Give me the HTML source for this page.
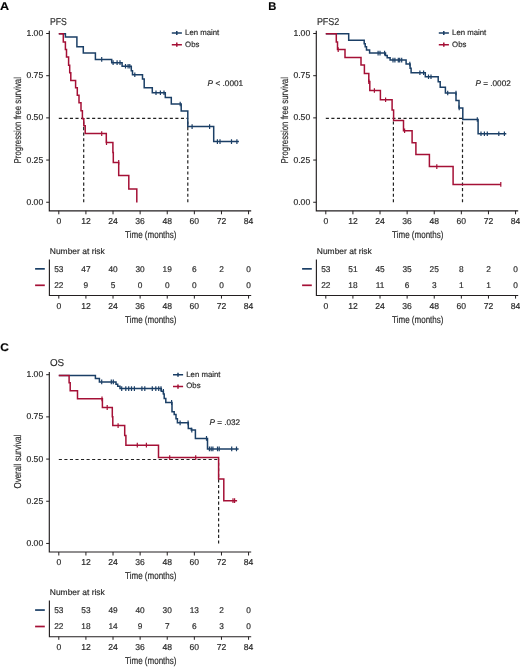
<!DOCTYPE html>
<html><head><meta charset="utf-8"><title>Kaplan-Meier</title>
<style>
html,body{margin:0;padding:0;background:#fff;}
body{width:520px;height:667px;overflow:hidden;}
svg{display:block;will-change:transform;text-rendering:geometricPrecision;font-family:"Liberation Sans",sans-serif;}
text{stroke:#2a2a2a;stroke-width:0.18px;}
</style></head>
<body>
<svg width="520" height="667" viewBox="0 0 520 667">
<rect width="520" height="667" fill="#fff"/>
<g transform="translate(0,0)">
<text x="0.0" y="9.8" font-size="11.2" font-weight="bold" fill="#000" textLength="9.1" lengthAdjust="spacingAndGlyphs">A</text>
<text x="49.9" y="24.6" font-size="10" fill="#2a2a2a" textLength="16.8" lengthAdjust="spacingAndGlyphs">PFS</text>
<path d="M49.3 30.8 V210.8 H251.2" fill="none" stroke="#231f20" stroke-width="1.15"/>
<path d="M46.2 33.50 H49.3" stroke="#231f20" stroke-width="1"/>
<text x="43.2" y="36.10" font-size="8.6" fill="#2a2a2a" text-anchor="end">1.00</text>
<path d="M46.2 75.69 H49.3" stroke="#231f20" stroke-width="1"/>
<text x="43.2" y="78.29" font-size="8.6" fill="#2a2a2a" text-anchor="end">0.75</text>
<path d="M46.2 117.88 H49.3" stroke="#231f20" stroke-width="1"/>
<text x="43.2" y="120.47" font-size="8.6" fill="#2a2a2a" text-anchor="end">0.50</text>
<path d="M46.2 160.06 H49.3" stroke="#231f20" stroke-width="1"/>
<text x="43.2" y="162.66" font-size="8.6" fill="#2a2a2a" text-anchor="end">0.25</text>
<path d="M46.2 202.25 H49.3" stroke="#231f20" stroke-width="1"/>
<text x="43.2" y="204.85" font-size="8.6" fill="#2a2a2a" text-anchor="end">0.00</text>
<path d="M58.80 210.8 V214.3" stroke="#231f20" stroke-width="1"/>
<text x="58.80" y="224.1" font-size="8.6" fill="#2a2a2a" text-anchor="middle">0</text>
<path d="M85.91 210.8 V214.3" stroke="#231f20" stroke-width="1"/>
<text x="85.91" y="224.1" font-size="8.6" fill="#2a2a2a" text-anchor="middle">12</text>
<path d="M113.02 210.8 V214.3" stroke="#231f20" stroke-width="1"/>
<text x="113.02" y="224.1" font-size="8.6" fill="#2a2a2a" text-anchor="middle">24</text>
<path d="M140.13 210.8 V214.3" stroke="#231f20" stroke-width="1"/>
<text x="140.13" y="224.1" font-size="8.6" fill="#2a2a2a" text-anchor="middle">36</text>
<path d="M167.24 210.8 V214.3" stroke="#231f20" stroke-width="1"/>
<text x="167.24" y="224.1" font-size="8.6" fill="#2a2a2a" text-anchor="middle">48</text>
<path d="M194.35 210.8 V214.3" stroke="#231f20" stroke-width="1"/>
<text x="194.35" y="224.1" font-size="8.6" fill="#2a2a2a" text-anchor="middle">60</text>
<path d="M221.46 210.8 V214.3" stroke="#231f20" stroke-width="1"/>
<text x="221.46" y="224.1" font-size="8.6" fill="#2a2a2a" text-anchor="middle">72</text>
<path d="M248.57 210.8 V214.3" stroke="#231f20" stroke-width="1"/>
<text x="248.57" y="224.1" font-size="8.6" fill="#2a2a2a" text-anchor="middle">84</text>
<text x="125.1" y="238" font-size="10" fill="#2a2a2a" textLength="51.4" lengthAdjust="spacingAndGlyphs">Time (months)</text>
<text transform="translate(20.9 120.25) rotate(-90)" x="0" y="0" font-size="10" fill="#2a2a2a" text-anchor="middle" textLength="86.3" lengthAdjust="spacingAndGlyphs">Progression free survival</text>
<g transform="translate(0.0,0.0)">
<path d="M171.8 32.9 H181.9 M176.8 30.9 V34.9" stroke="#1b3f66" stroke-width="1.5" fill="none"/>
<path d="M171.8 44.7 H181.9 M176.8 42.6 V46.8" stroke="#a51036" stroke-width="1.5" fill="none"/>
<text x="185.1" y="34.9" font-size="7.8" fill="#2a2a2a" textLength="34.2" lengthAdjust="spacingAndGlyphs">Len maint</text>
<text x="185.1" y="46.6" font-size="7.8" fill="#2a2a2a" textLength="14.3" lengthAdjust="spacingAndGlyphs">Obs</text>
</g>
<text x="207.6" y="85.9" font-size="8.2" fill="#2a2a2a" textLength="35.6" lengthAdjust="spacingAndGlyphs"><tspan font-style="italic">P</tspan> < .0001</text>
<text x="49.8" y="253.9" font-size="8.3" fill="#2a2a2a" textLength="55" lengthAdjust="spacingAndGlyphs">Number at risk</text>
<path d="M35.1 268.85 H44.8" stroke="#1b3f66" stroke-width="1.7"/>
<path d="M35.1 285.3 H44.8" stroke="#a51036" stroke-width="1.7"/>
<path d="M49.4 259.4 V295.5 H251.2" fill="none" stroke="#231f20" stroke-width="1.15"/>
<path d="M58.80 295.5 V298.6" stroke="#231f20" stroke-width="1"/>
<text x="58.80" y="309.3" font-size="8.6" fill="#2a2a2a" text-anchor="middle">0</text>
<text x="58.80" y="271.5" font-size="8.3" fill="#2a2a2a" text-anchor="middle">53</text>
<text x="58.80" y="287.7" font-size="8.3" fill="#2a2a2a" text-anchor="middle">22</text>
<path d="M85.91 295.5 V298.6" stroke="#231f20" stroke-width="1"/>
<text x="85.91" y="309.3" font-size="8.6" fill="#2a2a2a" text-anchor="middle">12</text>
<text x="85.91" y="271.5" font-size="8.3" fill="#2a2a2a" text-anchor="middle">47</text>
<text x="85.91" y="287.7" font-size="8.3" fill="#2a2a2a" text-anchor="middle">9</text>
<path d="M113.02 295.5 V298.6" stroke="#231f20" stroke-width="1"/>
<text x="113.02" y="309.3" font-size="8.6" fill="#2a2a2a" text-anchor="middle">24</text>
<text x="113.02" y="271.5" font-size="8.3" fill="#2a2a2a" text-anchor="middle">40</text>
<text x="113.02" y="287.7" font-size="8.3" fill="#2a2a2a" text-anchor="middle">5</text>
<path d="M140.13 295.5 V298.6" stroke="#231f20" stroke-width="1"/>
<text x="140.13" y="309.3" font-size="8.6" fill="#2a2a2a" text-anchor="middle">36</text>
<text x="140.13" y="271.5" font-size="8.3" fill="#2a2a2a" text-anchor="middle">30</text>
<text x="140.13" y="287.7" font-size="8.3" fill="#2a2a2a" text-anchor="middle">0</text>
<path d="M167.24 295.5 V298.6" stroke="#231f20" stroke-width="1"/>
<text x="167.24" y="309.3" font-size="8.6" fill="#2a2a2a" text-anchor="middle">48</text>
<text x="167.24" y="271.5" font-size="8.3" fill="#2a2a2a" text-anchor="middle">19</text>
<text x="167.24" y="287.7" font-size="8.3" fill="#2a2a2a" text-anchor="middle">0</text>
<path d="M194.35 295.5 V298.6" stroke="#231f20" stroke-width="1"/>
<text x="194.35" y="309.3" font-size="8.6" fill="#2a2a2a" text-anchor="middle">60</text>
<text x="194.35" y="271.5" font-size="8.3" fill="#2a2a2a" text-anchor="middle">6</text>
<text x="194.35" y="287.7" font-size="8.3" fill="#2a2a2a" text-anchor="middle">0</text>
<path d="M221.46 295.5 V298.6" stroke="#231f20" stroke-width="1"/>
<text x="221.46" y="309.3" font-size="8.6" fill="#2a2a2a" text-anchor="middle">72</text>
<text x="221.46" y="271.5" font-size="8.3" fill="#2a2a2a" text-anchor="middle">2</text>
<text x="221.46" y="287.7" font-size="8.3" fill="#2a2a2a" text-anchor="middle">0</text>
<path d="M248.57 295.5 V298.6" stroke="#231f20" stroke-width="1"/>
<text x="248.57" y="309.3" font-size="8.6" fill="#2a2a2a" text-anchor="middle">84</text>
<text x="248.57" y="271.5" font-size="8.3" fill="#2a2a2a" text-anchor="middle">0</text>
<text x="248.57" y="287.7" font-size="8.3" fill="#2a2a2a" text-anchor="middle">0</text>
<text x="125.1" y="322.9" font-size="10" fill="#2a2a2a" textLength="51.4" lengthAdjust="spacingAndGlyphs">Time (months)</text>
</g>
<path d="M58.8 118.4 H187.8 M83.7 202.3 V118.4 M187.8 202.3 V118.4" fill="none" stroke="#222" stroke-width="1.2" stroke-dasharray="3.1 2.45"/>
<g transform="translate(0,0.3)">
<path d="M58.8 33.5 H65.4 V36.8 H76.9 V46.4 H83.3 V52.8 H95.4 V59.1 H111.7 V62.4 H122.1 V66.0 H131.3 V70.5 H132.5 V74.5 H142.5 V78.8 H144.2 V87.5 H152.3 V92.5 H165.3 V97.3 H171.3 V103.7 H181.2 V110.6 H187.8 V126.2 H213.7 V141.3 H238.9" fill="none" stroke="#1b3f66" stroke-width="1.5" stroke-linejoin="miter" stroke-linecap="butt"/>
<path d="M101.7 56.8 V61.5 M113.1 60.0 V64.8 M117.1 60.0 V64.8 M120.0 60.0 V64.8 M125.5 63.6 V68.3 M128.1 63.6 V68.3 M129.8 63.6 V68.3 M134.8 72.2 V76.8 M156.0 90.2 V94.8 M160.4 90.2 V94.8 M164.0 90.2 V94.8 M180.2 101.4 V106.0 M192.1 123.9 V128.6 M209.6 123.9 V128.6 M217.4 139.0 V143.7 M220.0 139.0 V143.7 M231.5 139.0 V143.7 M236.9 139.0 V143.7" fill="none" stroke="#1b3f66" stroke-width="1.2"/>
</g>
<g transform="translate(0,0.3)">
<path d="M58.8 33.5 H63.3 V41.6 H65.4 V49.3 H66.5 V56.8 H68.6 V64.9 H69.7 V72.4 H70.8 V80.3 H75.6 V87.5 H77.3 V95.0 H79.0 V102.5 H81.0 V110.5 H82.4 V118.5 H83.8 V125.5 H85.2 V133.3 H106.3 V142.3 H112.9 V152.1 H113.3 V162.2 H118.7 V175.3 H128.8 V188.8 H136.8 V202.3" fill="none" stroke="#a51036" stroke-width="1.5" stroke-linejoin="miter" stroke-linecap="butt"/>
<path d="M101.7 131.0 V135.7 M106.5 140.0 V144.7 M118.7 159.8 V164.5" fill="none" stroke="#a51036" stroke-width="1.2"/>
</g>
<g transform="translate(267,0)">
<text x="1.2" y="9.8" font-size="11.2" font-weight="bold" fill="#000" textLength="8.1" lengthAdjust="spacingAndGlyphs">B</text>
<text x="49.9" y="24.6" font-size="10" fill="#2a2a2a" textLength="22.4" lengthAdjust="spacingAndGlyphs">PFS2</text>
<path d="M49.3 30.8 V210.8 H251.2" fill="none" stroke="#231f20" stroke-width="1.15"/>
<path d="M46.2 33.50 H49.3" stroke="#231f20" stroke-width="1"/>
<text x="43.2" y="36.10" font-size="8.6" fill="#2a2a2a" text-anchor="end">1.00</text>
<path d="M46.2 75.69 H49.3" stroke="#231f20" stroke-width="1"/>
<text x="43.2" y="78.29" font-size="8.6" fill="#2a2a2a" text-anchor="end">0.75</text>
<path d="M46.2 117.88 H49.3" stroke="#231f20" stroke-width="1"/>
<text x="43.2" y="120.47" font-size="8.6" fill="#2a2a2a" text-anchor="end">0.50</text>
<path d="M46.2 160.06 H49.3" stroke="#231f20" stroke-width="1"/>
<text x="43.2" y="162.66" font-size="8.6" fill="#2a2a2a" text-anchor="end">0.25</text>
<path d="M46.2 202.25 H49.3" stroke="#231f20" stroke-width="1"/>
<text x="43.2" y="204.85" font-size="8.6" fill="#2a2a2a" text-anchor="end">0.00</text>
<path d="M58.80 210.8 V214.3" stroke="#231f20" stroke-width="1"/>
<text x="58.80" y="224.1" font-size="8.6" fill="#2a2a2a" text-anchor="middle">0</text>
<path d="M85.91 210.8 V214.3" stroke="#231f20" stroke-width="1"/>
<text x="85.91" y="224.1" font-size="8.6" fill="#2a2a2a" text-anchor="middle">12</text>
<path d="M113.02 210.8 V214.3" stroke="#231f20" stroke-width="1"/>
<text x="113.02" y="224.1" font-size="8.6" fill="#2a2a2a" text-anchor="middle">24</text>
<path d="M140.13 210.8 V214.3" stroke="#231f20" stroke-width="1"/>
<text x="140.13" y="224.1" font-size="8.6" fill="#2a2a2a" text-anchor="middle">36</text>
<path d="M167.24 210.8 V214.3" stroke="#231f20" stroke-width="1"/>
<text x="167.24" y="224.1" font-size="8.6" fill="#2a2a2a" text-anchor="middle">48</text>
<path d="M194.35 210.8 V214.3" stroke="#231f20" stroke-width="1"/>
<text x="194.35" y="224.1" font-size="8.6" fill="#2a2a2a" text-anchor="middle">60</text>
<path d="M221.46 210.8 V214.3" stroke="#231f20" stroke-width="1"/>
<text x="221.46" y="224.1" font-size="8.6" fill="#2a2a2a" text-anchor="middle">72</text>
<path d="M248.57 210.8 V214.3" stroke="#231f20" stroke-width="1"/>
<text x="248.57" y="224.1" font-size="8.6" fill="#2a2a2a" text-anchor="middle">84</text>
<text x="125.1" y="238" font-size="10" fill="#2a2a2a" textLength="51.4" lengthAdjust="spacingAndGlyphs">Time (months)</text>
<text transform="translate(20.9 120.25) rotate(-90)" x="0" y="0" font-size="10" fill="#2a2a2a" text-anchor="middle" textLength="86.3" lengthAdjust="spacingAndGlyphs">Progression free survival</text>
<g transform="translate(0.0,0.0)">
<path d="M171.8 32.9 H181.9 M176.8 30.9 V34.9" stroke="#1b3f66" stroke-width="1.5" fill="none"/>
<path d="M171.8 44.7 H181.9 M176.8 42.6 V46.8" stroke="#a51036" stroke-width="1.5" fill="none"/>
<text x="185.1" y="34.9" font-size="7.8" fill="#2a2a2a" textLength="34.2" lengthAdjust="spacingAndGlyphs">Len maint</text>
<text x="185.1" y="46.6" font-size="7.8" fill="#2a2a2a" textLength="14.3" lengthAdjust="spacingAndGlyphs">Obs</text>
</g>
<text x="208.4" y="85.9" font-size="8.2" fill="#2a2a2a" textLength="35.4" lengthAdjust="spacingAndGlyphs"><tspan font-style="italic">P</tspan> = .0002</text>
<text x="49.8" y="253.9" font-size="8.3" fill="#2a2a2a" textLength="55" lengthAdjust="spacingAndGlyphs">Number at risk</text>
<path d="M35.1 268.85 H44.8" stroke="#1b3f66" stroke-width="1.7"/>
<path d="M35.1 285.3 H44.8" stroke="#a51036" stroke-width="1.7"/>
<path d="M49.4 259.4 V295.5 H251.2" fill="none" stroke="#231f20" stroke-width="1.15"/>
<path d="M58.80 295.5 V298.6" stroke="#231f20" stroke-width="1"/>
<text x="58.80" y="309.3" font-size="8.6" fill="#2a2a2a" text-anchor="middle">0</text>
<text x="58.80" y="271.5" font-size="8.3" fill="#2a2a2a" text-anchor="middle">53</text>
<text x="58.80" y="287.7" font-size="8.3" fill="#2a2a2a" text-anchor="middle">22</text>
<path d="M85.91 295.5 V298.6" stroke="#231f20" stroke-width="1"/>
<text x="85.91" y="309.3" font-size="8.6" fill="#2a2a2a" text-anchor="middle">12</text>
<text x="85.91" y="271.5" font-size="8.3" fill="#2a2a2a" text-anchor="middle">51</text>
<text x="85.91" y="287.7" font-size="8.3" fill="#2a2a2a" text-anchor="middle">18</text>
<path d="M113.02 295.5 V298.6" stroke="#231f20" stroke-width="1"/>
<text x="113.02" y="309.3" font-size="8.6" fill="#2a2a2a" text-anchor="middle">24</text>
<text x="113.02" y="271.5" font-size="8.3" fill="#2a2a2a" text-anchor="middle">45</text>
<text x="113.02" y="287.7" font-size="8.3" fill="#2a2a2a" text-anchor="middle">11</text>
<path d="M140.13 295.5 V298.6" stroke="#231f20" stroke-width="1"/>
<text x="140.13" y="309.3" font-size="8.6" fill="#2a2a2a" text-anchor="middle">36</text>
<text x="140.13" y="271.5" font-size="8.3" fill="#2a2a2a" text-anchor="middle">35</text>
<text x="140.13" y="287.7" font-size="8.3" fill="#2a2a2a" text-anchor="middle">6</text>
<path d="M167.24 295.5 V298.6" stroke="#231f20" stroke-width="1"/>
<text x="167.24" y="309.3" font-size="8.6" fill="#2a2a2a" text-anchor="middle">48</text>
<text x="167.24" y="271.5" font-size="8.3" fill="#2a2a2a" text-anchor="middle">25</text>
<text x="167.24" y="287.7" font-size="8.3" fill="#2a2a2a" text-anchor="middle">3</text>
<path d="M194.35 295.5 V298.6" stroke="#231f20" stroke-width="1"/>
<text x="194.35" y="309.3" font-size="8.6" fill="#2a2a2a" text-anchor="middle">60</text>
<text x="194.35" y="271.5" font-size="8.3" fill="#2a2a2a" text-anchor="middle">8</text>
<text x="194.35" y="287.7" font-size="8.3" fill="#2a2a2a" text-anchor="middle">1</text>
<path d="M221.46 295.5 V298.6" stroke="#231f20" stroke-width="1"/>
<text x="221.46" y="309.3" font-size="8.6" fill="#2a2a2a" text-anchor="middle">72</text>
<text x="221.46" y="271.5" font-size="8.3" fill="#2a2a2a" text-anchor="middle">2</text>
<text x="221.46" y="287.7" font-size="8.3" fill="#2a2a2a" text-anchor="middle">1</text>
<path d="M248.57 295.5 V298.6" stroke="#231f20" stroke-width="1"/>
<text x="248.57" y="309.3" font-size="8.6" fill="#2a2a2a" text-anchor="middle">84</text>
<text x="248.57" y="271.5" font-size="8.3" fill="#2a2a2a" text-anchor="middle">0</text>
<text x="248.57" y="287.7" font-size="8.3" fill="#2a2a2a" text-anchor="middle">0</text>
<text x="125.1" y="322.9" font-size="10" fill="#2a2a2a" textLength="51.4" lengthAdjust="spacingAndGlyphs">Time (months)</text>
</g>
<path d="M325.8 118.4 H462.5 M393.4 202.3 V118.4 M462.5 202.3 V118.4" fill="none" stroke="#222" stroke-width="1.2" stroke-dasharray="3.1 2.45"/>
<g transform="translate(0,0.3)">
<path d="M325.8 33.5 H348.7 V40.0 H364.2 V43.5 H365.2 V46.5 H366.5 V49.6 H369.6 V52.7 H385.5 V55.3 H387.2 V57.5 H390.1 V59.8 H406.1 V63.7 H410.1 V68.0 H411.1 V72.4 H425.3 V76.4 H438.2 V81.5 H440.2 V86.9 H445.4 V92.7 H456.0 V100.2 H459.0 V107.6 H462.8 V119.2 H478.1 V133.5 H506.3" fill="none" stroke="#1b3f66" stroke-width="1.5" stroke-linejoin="miter" stroke-linecap="butt"/>
<path d="M378.1 50.4 V55.1 M380.0 50.4 V55.1 M384.6 50.4 V55.1 M393.0 57.4 V62.1 M394.9 57.4 V62.1 M398.3 57.4 V62.1 M399.7 57.4 V62.1 M401.7 57.4 V62.1 M409.8 61.4 V66.0 M419.9 70.1 V74.8 M423.6 70.1 V74.8 M428.5 74.1 V78.8 M431.0 74.1 V78.8 M447.7 90.4 V95.0 M456.0 90.4 V95.0 M459.2 105.2 V109.9 M477.3 116.9 V121.5 M481.0 131.2 V135.8 M484.4 131.2 V135.8 M487.3 131.2 V135.8 M498.8 131.2 V135.8 M504.4 131.2 V135.8" fill="none" stroke="#1b3f66" stroke-width="1.2"/>
</g>
<g transform="translate(0,0.3)">
<path d="M325.8 33.5 H336.3 V41.7 H337.5 V49.2 H345.0 V57.3 H361.0 V64.8 H364.4 V73.3 H368.8 V81.3 H369.8 V90.2 H380.4 V99.5 H392.1 V109.7 H393.6 V120.1 H403.5 V130.5 H412.1 V142.5 H415.9 V154.2 H429.4 V166.3 H453.1 V184.2 H501.0" fill="none" stroke="#a51036" stroke-width="1.5" stroke-linejoin="miter" stroke-linecap="butt"/>
<path d="M338.2 46.9 V51.6 M368.8 79.0 V83.6 M374.4 87.9 V92.5 M385.6 97.2 V101.8 M404.6 128.2 V132.8 M436.8 164.0 V168.7 M500.8 181.8 V186.5" fill="none" stroke="#a51036" stroke-width="1.2"/>
</g>
<g transform="translate(0,341.2)">
<text x="0.2" y="9.8" font-size="11.2" font-weight="bold" fill="#000" textLength="8.6" lengthAdjust="spacingAndGlyphs">C</text>
<text x="49.9" y="24.6" font-size="10" fill="#2a2a2a" textLength="14.2" lengthAdjust="spacingAndGlyphs">OS</text>
<path d="M49.3 30.8 V210.8 H251.2" fill="none" stroke="#231f20" stroke-width="1.15"/>
<path d="M46.2 33.50 H49.3" stroke="#231f20" stroke-width="1"/>
<text x="43.2" y="36.10" font-size="8.6" fill="#2a2a2a" text-anchor="end">1.00</text>
<path d="M46.2 75.69 H49.3" stroke="#231f20" stroke-width="1"/>
<text x="43.2" y="78.29" font-size="8.6" fill="#2a2a2a" text-anchor="end">0.75</text>
<path d="M46.2 117.88 H49.3" stroke="#231f20" stroke-width="1"/>
<text x="43.2" y="120.47" font-size="8.6" fill="#2a2a2a" text-anchor="end">0.50</text>
<path d="M46.2 160.06 H49.3" stroke="#231f20" stroke-width="1"/>
<text x="43.2" y="162.66" font-size="8.6" fill="#2a2a2a" text-anchor="end">0.25</text>
<path d="M46.2 202.25 H49.3" stroke="#231f20" stroke-width="1"/>
<text x="43.2" y="204.85" font-size="8.6" fill="#2a2a2a" text-anchor="end">0.00</text>
<path d="M58.80 210.8 V214.3" stroke="#231f20" stroke-width="1"/>
<text x="58.80" y="224.1" font-size="8.6" fill="#2a2a2a" text-anchor="middle">0</text>
<path d="M85.91 210.8 V214.3" stroke="#231f20" stroke-width="1"/>
<text x="85.91" y="224.1" font-size="8.6" fill="#2a2a2a" text-anchor="middle">12</text>
<path d="M113.02 210.8 V214.3" stroke="#231f20" stroke-width="1"/>
<text x="113.02" y="224.1" font-size="8.6" fill="#2a2a2a" text-anchor="middle">24</text>
<path d="M140.13 210.8 V214.3" stroke="#231f20" stroke-width="1"/>
<text x="140.13" y="224.1" font-size="8.6" fill="#2a2a2a" text-anchor="middle">36</text>
<path d="M167.24 210.8 V214.3" stroke="#231f20" stroke-width="1"/>
<text x="167.24" y="224.1" font-size="8.6" fill="#2a2a2a" text-anchor="middle">48</text>
<path d="M194.35 210.8 V214.3" stroke="#231f20" stroke-width="1"/>
<text x="194.35" y="224.1" font-size="8.6" fill="#2a2a2a" text-anchor="middle">60</text>
<path d="M221.46 210.8 V214.3" stroke="#231f20" stroke-width="1"/>
<text x="221.46" y="224.1" font-size="8.6" fill="#2a2a2a" text-anchor="middle">72</text>
<path d="M248.57 210.8 V214.3" stroke="#231f20" stroke-width="1"/>
<text x="248.57" y="224.1" font-size="8.6" fill="#2a2a2a" text-anchor="middle">84</text>
<text x="125.1" y="238" font-size="10" fill="#2a2a2a" textLength="51.4" lengthAdjust="spacingAndGlyphs">Time (months)</text>
<text transform="translate(20.9 120.25) rotate(-90)" x="0" y="0" font-size="10" fill="#2a2a2a" text-anchor="middle" textLength="53.9" lengthAdjust="spacingAndGlyphs">Overall survival</text>
<g transform="translate(1.2,0.7)">
<path d="M171.8 32.9 H181.9 M176.8 30.9 V34.9" stroke="#1b3f66" stroke-width="1.5" fill="none"/>
<path d="M171.8 44.7 H181.9 M176.8 42.6 V46.8" stroke="#a51036" stroke-width="1.5" fill="none"/>
<text x="185.1" y="34.9" font-size="7.8" fill="#2a2a2a" textLength="34.2" lengthAdjust="spacingAndGlyphs">Len maint</text>
<text x="185.1" y="46.6" font-size="7.8" fill="#2a2a2a" textLength="14.3" lengthAdjust="spacingAndGlyphs">Obs</text>
</g>
<text x="209.4" y="84.30000000000001" font-size="8.2" fill="#2a2a2a" textLength="30.8" lengthAdjust="spacingAndGlyphs"><tspan font-style="italic">P</tspan> = .032</text>
<text x="49.8" y="253.9" font-size="8.3" fill="#2a2a2a" textLength="55" lengthAdjust="spacingAndGlyphs">Number at risk</text>
<path d="M35.1 268.85 H44.8" stroke="#1b3f66" stroke-width="1.7"/>
<path d="M35.1 285.3 H44.8" stroke="#a51036" stroke-width="1.7"/>
<path d="M49.4 259.4 V295.5 H251.2" fill="none" stroke="#231f20" stroke-width="1.15"/>
<path d="M58.80 295.5 V298.6" stroke="#231f20" stroke-width="1"/>
<text x="58.80" y="309.3" font-size="8.6" fill="#2a2a2a" text-anchor="middle">0</text>
<text x="58.80" y="271.5" font-size="8.3" fill="#2a2a2a" text-anchor="middle">53</text>
<text x="58.80" y="287.7" font-size="8.3" fill="#2a2a2a" text-anchor="middle">22</text>
<path d="M85.91 295.5 V298.6" stroke="#231f20" stroke-width="1"/>
<text x="85.91" y="309.3" font-size="8.6" fill="#2a2a2a" text-anchor="middle">12</text>
<text x="85.91" y="271.5" font-size="8.3" fill="#2a2a2a" text-anchor="middle">53</text>
<text x="85.91" y="287.7" font-size="8.3" fill="#2a2a2a" text-anchor="middle">18</text>
<path d="M113.02 295.5 V298.6" stroke="#231f20" stroke-width="1"/>
<text x="113.02" y="309.3" font-size="8.6" fill="#2a2a2a" text-anchor="middle">24</text>
<text x="113.02" y="271.5" font-size="8.3" fill="#2a2a2a" text-anchor="middle">49</text>
<text x="113.02" y="287.7" font-size="8.3" fill="#2a2a2a" text-anchor="middle">14</text>
<path d="M140.13 295.5 V298.6" stroke="#231f20" stroke-width="1"/>
<text x="140.13" y="309.3" font-size="8.6" fill="#2a2a2a" text-anchor="middle">36</text>
<text x="140.13" y="271.5" font-size="8.3" fill="#2a2a2a" text-anchor="middle">40</text>
<text x="140.13" y="287.7" font-size="8.3" fill="#2a2a2a" text-anchor="middle">9</text>
<path d="M167.24 295.5 V298.6" stroke="#231f20" stroke-width="1"/>
<text x="167.24" y="309.3" font-size="8.6" fill="#2a2a2a" text-anchor="middle">48</text>
<text x="167.24" y="271.5" font-size="8.3" fill="#2a2a2a" text-anchor="middle">30</text>
<text x="167.24" y="287.7" font-size="8.3" fill="#2a2a2a" text-anchor="middle">7</text>
<path d="M194.35 295.5 V298.6" stroke="#231f20" stroke-width="1"/>
<text x="194.35" y="309.3" font-size="8.6" fill="#2a2a2a" text-anchor="middle">60</text>
<text x="194.35" y="271.5" font-size="8.3" fill="#2a2a2a" text-anchor="middle">13</text>
<text x="194.35" y="287.7" font-size="8.3" fill="#2a2a2a" text-anchor="middle">6</text>
<path d="M221.46 295.5 V298.6" stroke="#231f20" stroke-width="1"/>
<text x="221.46" y="309.3" font-size="8.6" fill="#2a2a2a" text-anchor="middle">72</text>
<text x="221.46" y="271.5" font-size="8.3" fill="#2a2a2a" text-anchor="middle">2</text>
<text x="221.46" y="287.7" font-size="8.3" fill="#2a2a2a" text-anchor="middle">3</text>
<path d="M248.57 295.5 V298.6" stroke="#231f20" stroke-width="1"/>
<text x="248.57" y="309.3" font-size="8.6" fill="#2a2a2a" text-anchor="middle">84</text>
<text x="248.57" y="271.5" font-size="8.3" fill="#2a2a2a" text-anchor="middle">0</text>
<text x="248.57" y="287.7" font-size="8.3" fill="#2a2a2a" text-anchor="middle">0</text>
<text x="125.1" y="322.9" font-size="10" fill="#2a2a2a" textLength="51.4" lengthAdjust="spacingAndGlyphs">Time (months)</text>
</g>
<path d="M58.8 459.5 H218.6 M218.6 543.5 V459.5" fill="none" stroke="#222" stroke-width="1.2" stroke-dasharray="3.1 2.45"/>
<g transform="translate(0,0.3)">
<path d="M58.8 375.2 H95.4 V378.3 H99.4 V381.6 H116.0 V383.9 H117.7 V385.9 H120.0 V388.3 H161.3 V391.0 H163.4 V393.6 H164.2 V398.2 H165.8 V402.2 H172.0 V411.5 H174.2 V414.2 H176.0 V418.5 H177.4 V422.5 H188.3 V428.3 H191.3 V429.8 H195.4 V438.1 H207.5 V448.6 H238.6" fill="none" stroke="#1b3f66" stroke-width="1.5" stroke-linejoin="miter" stroke-linecap="butt"/>
<path d="M101.7 379.2 V384.0 M111.3 379.2 V384.0 M113.3 379.2 V384.0 M121.7 385.9 V390.7 M125.8 385.9 V390.7 M128.7 385.9 V390.7 M131.5 385.9 V390.7 M134.4 385.9 V390.7 M141.9 385.9 V390.7 M144.8 385.9 V390.7 M152.3 385.9 V390.7 M155.8 385.9 V390.7 M158.7 385.9 V390.7 M161.0 385.9 V390.7 M163.4 388.6 V393.4 M171.6 399.8 V404.6 M180.1 420.1 V424.9 M188.1 420.1 V424.9 M191.8 427.4 V432.2 M206.5 435.8 V440.5 M209.4 446.2 V451.0 M211.2 446.2 V451.0 M212.9 446.2 V451.0 M217.5 446.2 V451.0 M219.2 446.2 V451.0 M231.7 446.2 V451.0 M236.5 446.2 V451.0" fill="none" stroke="#1b3f66" stroke-width="1.2"/>
</g>
<g transform="translate(0,0.3)">
<path d="M58.8 375.2 H69.1 V382.4 H70.2 V390.5 H77.5 V398.5 H102.4 V407.2 H112.3 V416.4 H112.8 V425.3 H124.7 V435.2 H125.9 V444.9 H158.5 V457.3 H218.6 V478.8 H223.8 V500.4 H237.1" fill="none" stroke="#a51036" stroke-width="1.5" stroke-linejoin="miter" stroke-linecap="butt"/>
<path d="M102.0 396.1 V400.9 M107.2 404.8 V409.6 M118.1 422.9 V427.7 M137.3 442.5 V447.2 M146.4 442.5 V447.2 M169.7 454.9 V459.7 M195.7 454.9 V459.7 M233.0 498.0 V502.8 M234.6 498.0 V502.8" fill="none" stroke="#a51036" stroke-width="1.2"/>
</g>
</svg>
</body></html>
